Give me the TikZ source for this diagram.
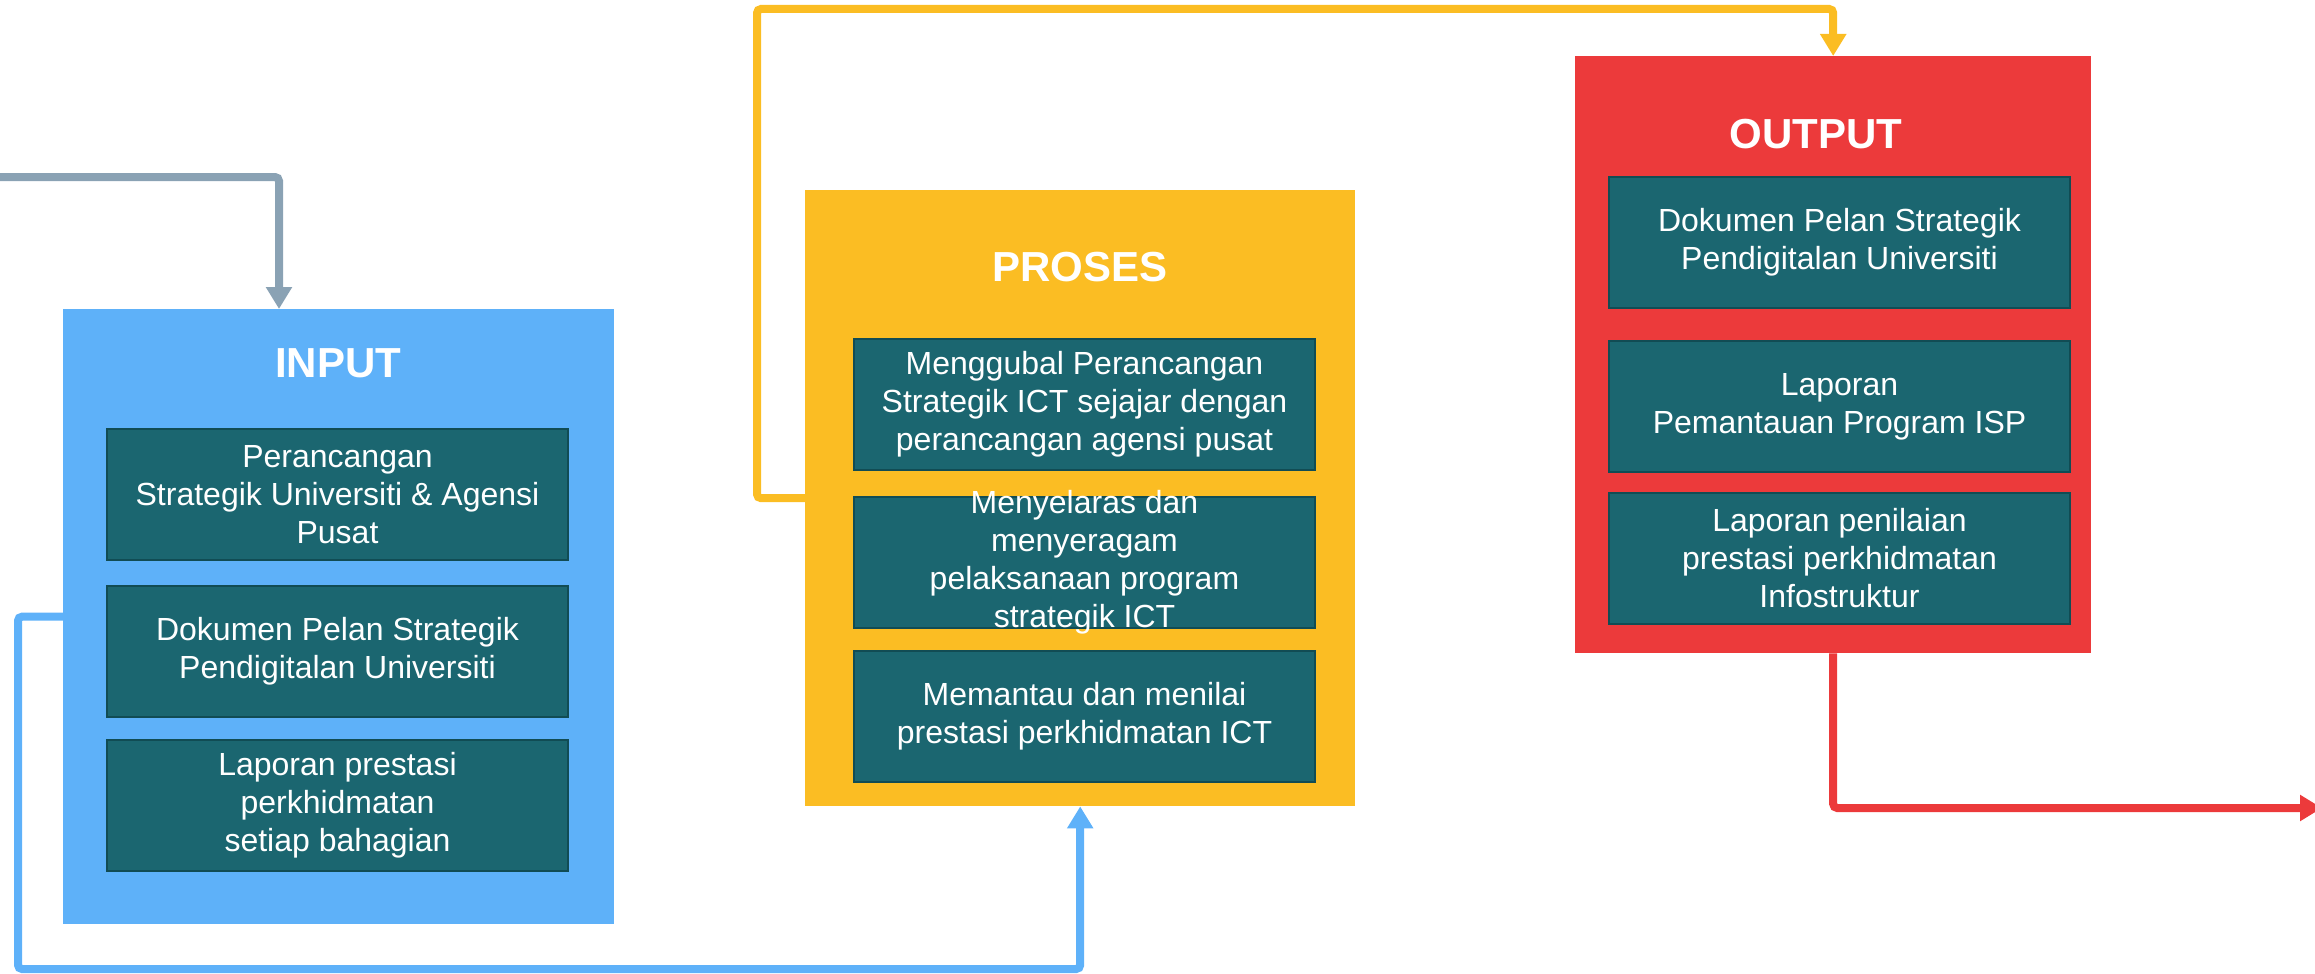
\documentclass[tikz,border=0pt]{standalone}
\usepackage{fontspec}
\setmainfont{Liberation Sans}
\usetikzlibrary{arrows.meta}
\definecolor{inblue}{HTML}{5EB1F9}
\definecolor{proyellow}{HTML}{FBBD23}
\definecolor{outred}{HTML}{EC3A3B}
\definecolor{itemteal}{HTML}{1B6670}
\definecolor{itemedge}{HTML}{114C54}
\definecolor{feedgray}{HTML}{8AA2B4}
\tikzset{
  panel/.style={fill=#1, anchor=north west, inner sep=0pt},
  paneltitle/.style={text=white, font=\fontsize{42}{48}\selectfont\bfseries},
  item/.style={fill=itemteal, draw=itemedge, line width=2pt, anchor=north west,
    minimum width=461pt, minimum height=131pt, inner sep=0pt,
    align=center, text=white, font=\fontsize{32}{38}\selectfont},
  itemtext/.style={align=center, text=white, inner sep=0pt,
    font=\fontsize{32}{38}\selectfont},
  flow/.style={draw=#1, line width=8pt, rounded corners=4pt,
    -{Triangle[width=25pt,length=22pt]}}
}
\begin{document}
\begin{tikzpicture}[x=1pt, y=-1pt]
  \useasboundingbox (0,0) rectangle (2315,974);

  % panels
  \node[panel=inblue, minimum width=551pt, minimum height=615pt] (in) at (63,309) {};
  \node[panel=proyellow, minimum width=550pt, minimum height=616pt] (pr) at (805,190) {};
  \node[panel=outred, minimum width=516pt, minimum height=597pt] (out) at (1575,56) {};

  % titles
  \node[paneltitle] (intitle) at (338,363) {INPUT};
  \node[paneltitle] (prtitle) at (1080,267) {PROSES};
  \node[paneltitle] (outtitle) at (1816,134) {OUTPUT};

  % input items
  \node[item] (in1) at (106,428) {Perancangan\\Strategik Universiti \& Agensi\\Pusat};
  \node[item] (in2) at (106,585) {Dokumen Pelan Strategik\\Pendigitalan Universiti};
  \node[item] (in3) at (106,739) {Laporan prestasi\\perkhidmatan\\setiap bahagian};

  % proses items
  \node[item] (pr1) at (853,338) {Menggubal Perancangan\\Strategik ICT sejajar dengan\\perancangan agensi pusat};
  \node[item] (pr2) at (853,496) {};
  \node[itemtext] (pr2text) at (pr2) {Menyelaras dan\\menyeragam\\pelaksanaan program\\strategik ICT};
  \node[item] (pr3) at (853,650) {Memantau dan menilai\\prestasi perkhidmatan ICT};

  % output items
  \node[item] (out1) at (1608,176) {Dokumen Pelan Strategik\\Pendigitalan Universiti};
  \node[item] (out2) at (1608,340) {Laporan\\Pemantauan Program ISP};
  \node[item] (out3) at (1608,492) {Laporan penilaian\\prestasi perkhidmatan\\Infostruktur};

  % connectors
  \coordinate (gs) at (-5,177);
  \coordinate (bl) at (18,969);
  \coordinate (yl) at (757,9);
  \coordinate (rend) at (2322,808);
  \draw[flow=feedgray] (gs) -| ([xshift=216pt]in.north west);
  \draw[flow=inblue] (in.west) -| (bl) -| (pr.south);
  \draw[flow=proyellow] (pr.west) -| (yl) -| (out.north);
  \draw[flow=outred] (out.south) |- (rend);
\end{tikzpicture}
\end{document}
